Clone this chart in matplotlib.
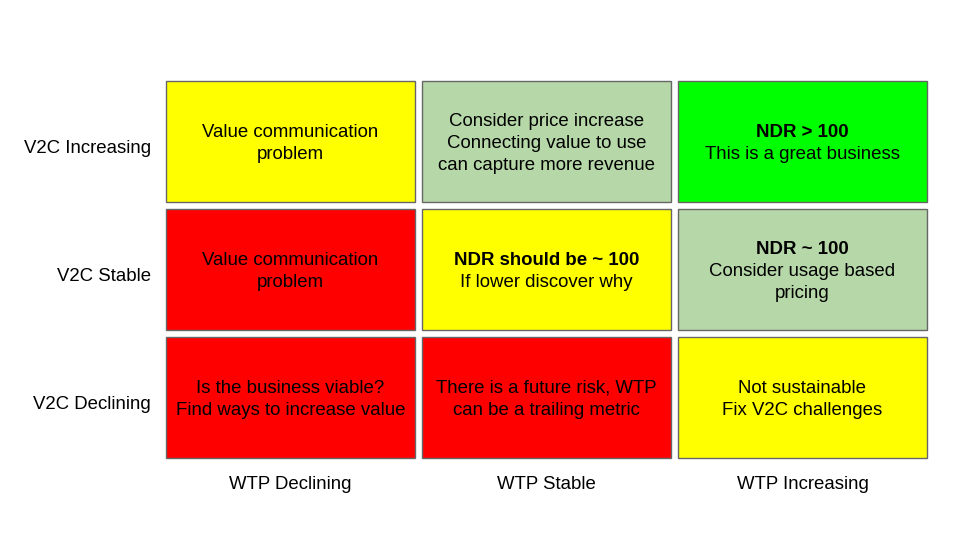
import matplotlib
matplotlib.use("Agg")
import matplotlib.pyplot as plt
from matplotlib.patches import Rectangle

plt.rcParams["font.family"] = ["Liberation Sans", "DejaVu Sans"]

ROW_LABELS = ["V2C Increasing", "V2C Stable", "V2C Declining"]
COL_LABELS = ["WTP Declining", "WTP Stable", "WTP Increasing"]

YELLOW = "#FFFF00"
RED = "#FF0000"
GREEN = "#00FF00"
SAGE = "#B6D7A8"

CELL_COLORS = [
    [YELLOW, SAGE, GREEN],
    [RED, YELLOW, SAGE],
    [RED, RED, YELLOW],
]
# (bold headline or None, body text)
CELL_TEXT = [
    [(None, "Value communication\nproblem"),
     (None, "Consider price increase\nConnecting value to use\ncan capture more revenue"),
     ("NDR > 100", "This is a great business")],
    [(None, "Value communication\nproblem"),
     ("NDR should be ~ 100", "If lower discover why"),
     ("NDR ~ 100", "Consider usage based\npricing")],
    [(None, "Is the business viable?\nFind ways to increase value"),
     (None, "There is a future risk, WTP\ncan be a trailing metric"),
     (None, "Not sustainable\nFix V2C challenges")],
]

X0, Y0 = 166, 80.5        # top-left of grid (px)
CW, CH = 249, 121         # cell size
GAP = 7
LINE = 22.3               # text line height (px)
FS = 13.4
DY = 2.5                  # nudge so text sits like the reference

fig = plt.figure(figsize=(9.6, 5.4), dpi=100, facecolor="white")
ax = fig.add_axes([0, 0, 1, 1])
ax.set_xlim(0, 960)
ax.set_ylim(540, 0)
ax.axis("off")

for r in range(3):
    for c in range(3):
        x = X0 + c * (CW + GAP)
        y = Y0 + r * (CH + GAP)
        ax.add_patch(Rectangle((x, y), CW, CH, facecolor=CELL_COLORS[r][c],
                               edgecolor="#666666", lw=1.0))
        head, body = CELL_TEXT[r][c]
        lines = [(head, "bold")] if head else []
        lines += [(t, "normal") for t in body.split("\n")]
        cy = y + CH / 2 + DY
        start = cy - (len(lines) - 1) * LINE / 2
        for k, (t, w) in enumerate(lines):
            ax.text(x + CW / 2, start + k * LINE, t, ha="center", va="center",
                    fontsize=FS, fontweight=w, color="black")

for r, lab in enumerate(ROW_LABELS):
    ax.text(151, Y0 + r * (CH + GAP) + CH / 2 + 5 + DY, lab, ha="right",
            va="center", fontsize=FS)
for c, lab in enumerate(COL_LABELS):
    ax.text(X0 + c * (CW + GAP) + CW / 2, 482 + DY, lab, ha="center",
            va="center", fontsize=FS)

fig.savefig("out.png", dpi=100, facecolor="white")
